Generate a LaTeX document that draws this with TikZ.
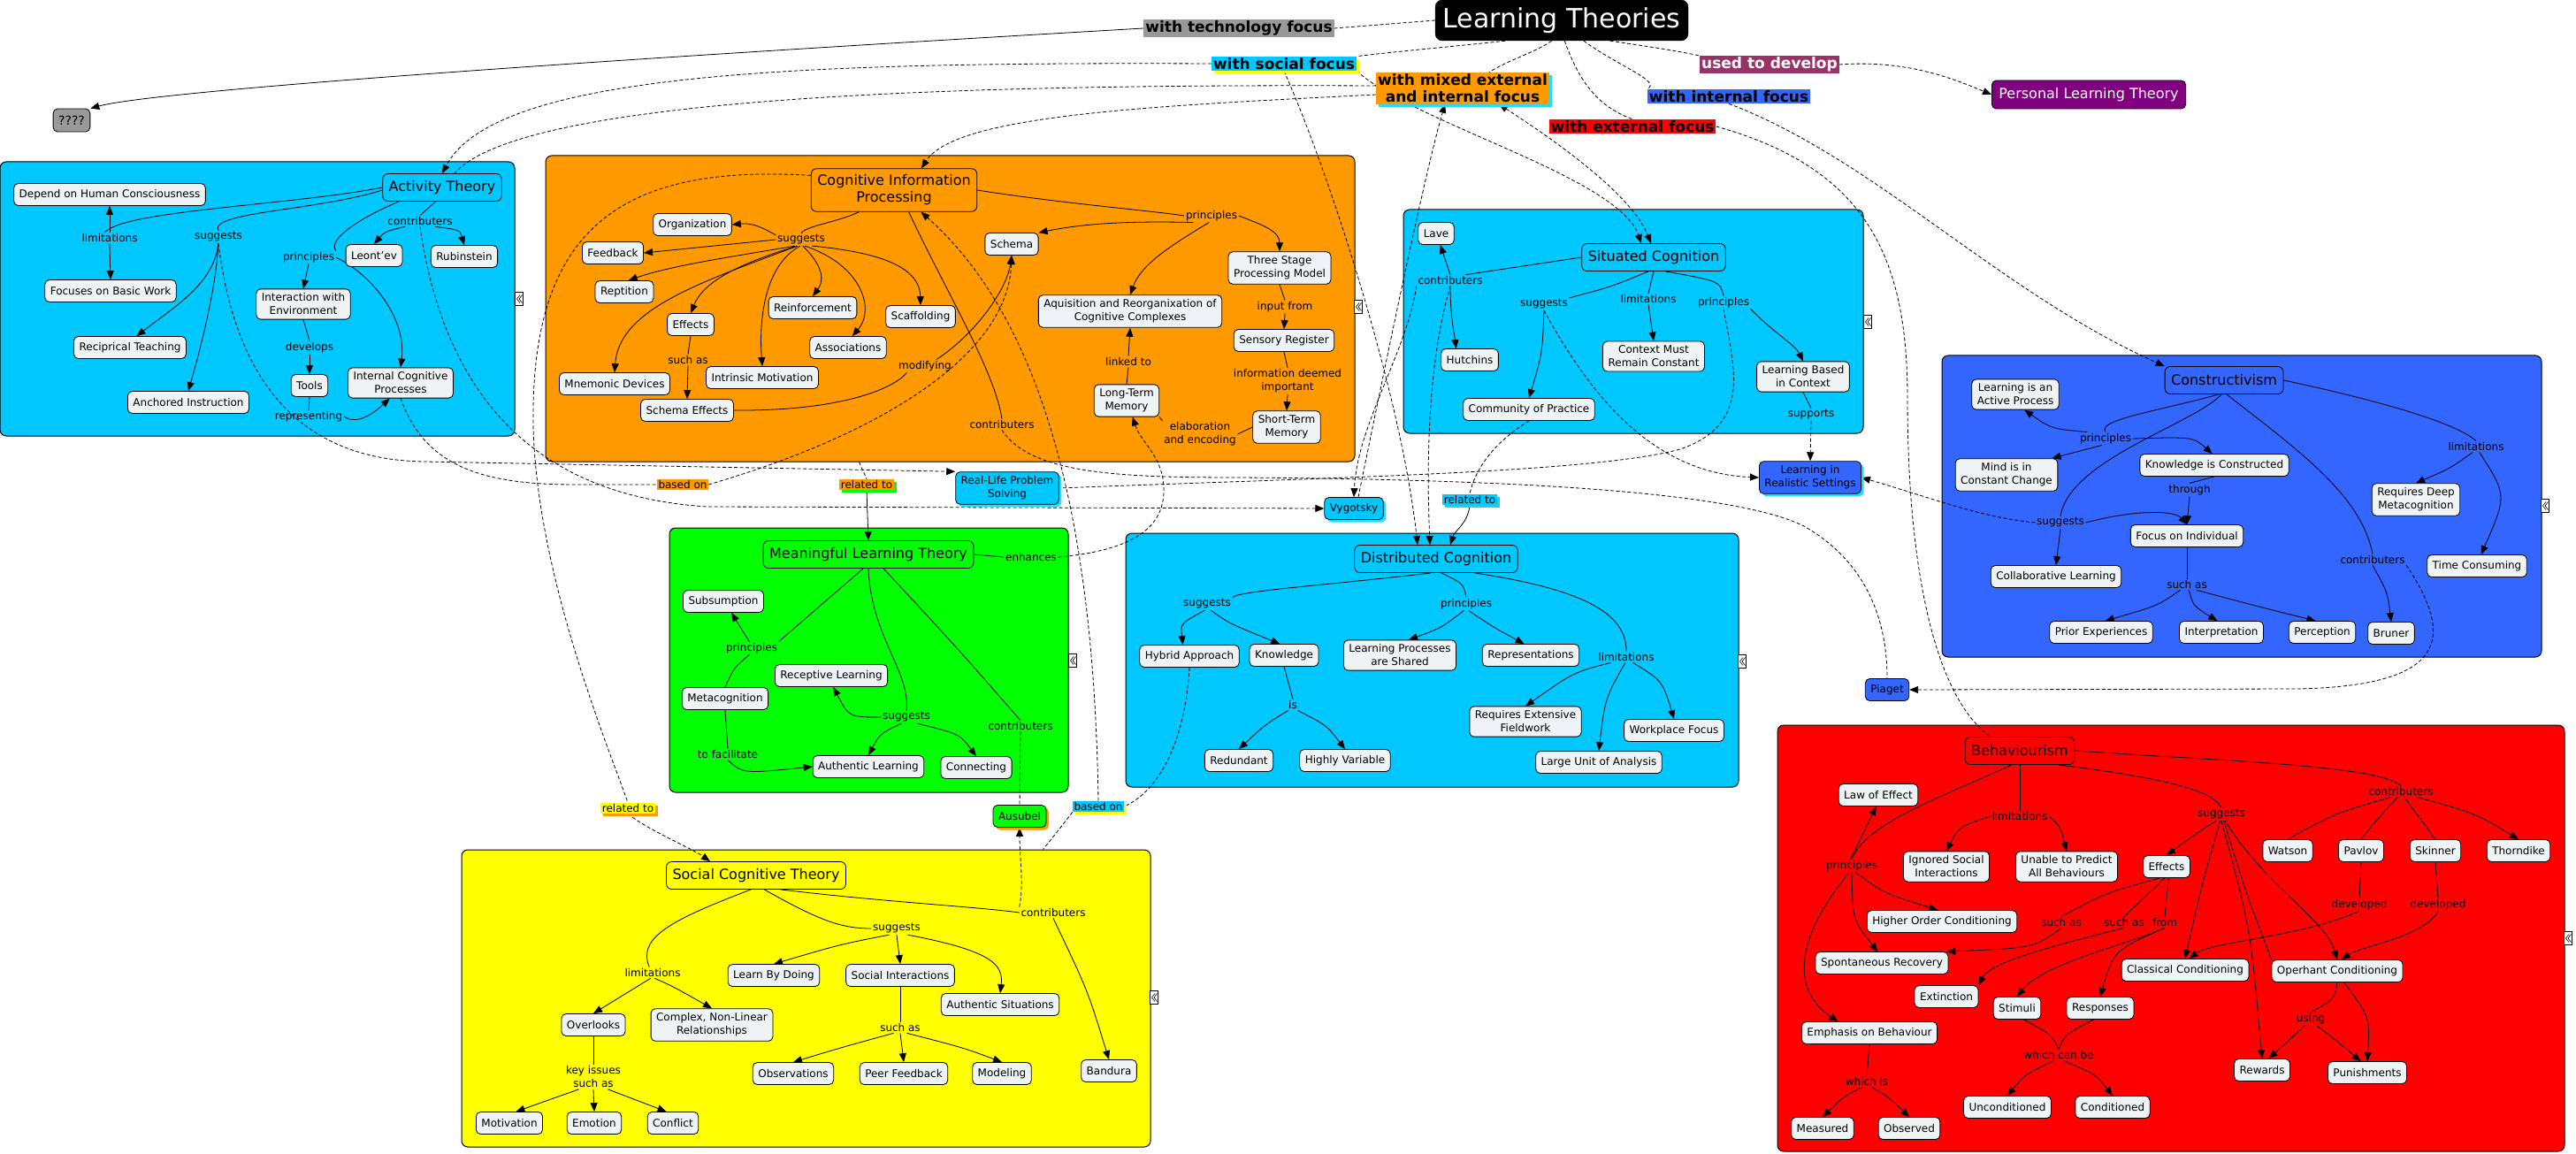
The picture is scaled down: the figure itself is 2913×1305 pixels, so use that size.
\documentclass[tikz,border=0pt]{standalone}
\usepackage{fontspec}
\setmainfont{DejaVu Sans}
\usetikzlibrary{arrows.meta,shadows,calc}
\definecolor{cyanc}{HTML}{00C8FF}
\definecolor{orangec}{HTML}{FF9900}
\definecolor{bluec}{HTML}{3366FF}
\definecolor{greenc}{HTML}{00FF00}
\definecolor{yellowc}{HTML}{FFFF00}
\definecolor{redc}{HTML}{FF0000}
\definecolor{nfc}{HTML}{EEF3F6}
\definecolor{grayc}{HTML}{999999}
\definecolor{purplec}{HTML}{800080}
\definecolor{maroonc}{HTML}{993366}
\definecolor{tealc}{HTML}{33CCCC}
\definecolor{shcy}{HTML}{22DDFF}
\pgfdeclarelayer{bg}
\pgfdeclarelayer{edges}
\pgfsetlayers{bg,edges,main}
\newcommand\ftw{\fontsize{12}{15}\selectfont}
\newcommand\fsx{\fontsize{16}{19}\selectfont}
\begin{document}
\begin{tikzpicture}[x=1pt,y=-1pt,
  cnode/.style={draw, rounded corners=5pt, fill=nfc, font=\ftw, inner xsep=6pt, inner ysep=5pt, minimum height=25pt, align=center, line width=0.8pt},
  tnode/.style={draw, rounded corners=6pt, font=\fsx, inner xsep=7pt, inner ysep=6pt, minimum height=31pt, align=center, line width=0.8pt},
  lph/.style={font=\ftw, inner sep=1.5pt, align=center},
  contbox/.style={draw, rounded corners=7pt, line width=1pt, inner sep=0pt},
  ln/.style={line width=0.8pt},
  arw/.style={ln, -{Triangle[length=10pt,width=8pt]}},
  dline/.style={ln, dash pattern=on 4pt off 2.5pt},
  darw/.style={arw, dash pattern=on 4pt off 2.5pt},
  toplab/.style={font=\bfseries\fontsize{17}{19}\selectfont, inner xsep=2pt, inner ysep=1.5pt, align=center},
  shd/.style={drop shadow={shadow xshift=3pt,shadow yshift=-3pt,fill=#1,opacity=1}},
  cmark/.pic={\draw[fill=white,line width=0.5pt] (-4.5,-7.5) rectangle (4.5,7.5);
    \draw[line width=0.6pt] (1,-4.5)--(-2.5,0)--(1,4.5) (3.5,-4.5)--(0,0)--(3.5,4.5);}
]
\useasboundingbox (0,0) rectangle (2913,1305);

% ---------------- containers
\begin{pgfonlayer}{bg}
\node[contbox, fill=cyanc, minimum width=582pt, minimum height=310pt] (Bat) at (291,338) {};
\node[contbox, fill=orangec, minimum width=915pt, minimum height=346pt] (Bcip) at (1074.5,349) {};
\node[contbox, fill=cyanc, minimum width=520pt, minimum height=253pt] (Bsc) at (1847,363.5) {};
\node[contbox, fill=bluec, minimum width=678pt, minimum height=341pt] (Bcon) at (2535,572.5) {};
\node[contbox, fill=greenc, minimum width=451pt, minimum height=299pt] (Bml) at (982.5,746.5) {};
\node[contbox, fill=cyanc, minimum width=693pt, minimum height=287pt] (Bdc) at (1619.5,746.5) {};
\node[contbox, fill=yellowc, minimum width=779pt, minimum height=336pt] (Bsct) at (911.5,1129) {};
\node[contbox, fill=redc, minimum width=890pt, minimum height=482pt] (Bbeh) at (2455,1061) {};
\end{pgfonlayer}
\pic at (587,338) {cmark};
\pic at (1536,347) {cmark};
\pic at (2112,364) {cmark};
\pic at (2878,572) {cmark};
\pic at (1213,747) {cmark};
\pic at (1970,748) {cmark};
\pic at (1305,1128) {cmark};
\pic at (2904,1061) {cmark};

% ---------------- top
\node[draw=black, fill=black, text=white, rounded corners=8pt, font=\fontsize{30}{36}\selectfont, minimum width=286pt, minimum height=46pt, inner sep=0pt] (LT) at (1766,23) {Learning Theories};
\node[toplab, fill=grayc] (tech) at (1401,32) {with technology focus};
\node[toplab, fill=cyanc, shd=yellowc] (social) at (1452,72) {with social focus};
\node[toplab, fill=orangec, shd=shcy] (mixed) at (1654,100) {with mixed external\\and internal focus};
\node[toplab, fill=maroonc, text=white] (used) at (2001,73) {used to develop};
\node[toplab, fill=bluec] (internal) at (1955,109) {with internal focus};
\node[toplab, fill=redc] (external) at (1846,143) {with external focus};
\node[cnode, fill=purplec, text=white, font=\fontsize{16}{19}\selectfont, minimum height=32pt, inner xsep=8pt] (PLT) at (2362,107) {Personal Learning Theory};
\node[cnode, fill=grayc, font=\fontsize{14}{17}\selectfont, minimum height=26pt] (qq) at (81,136) {????};

% ---------------- standalone
\node[cnode, fill=cyanc, shd=shcy] (RL) at (1139,552) {Real-Life Problem\\Solving};
\node[cnode, fill=cyanc, shd=shcy] (Vy) at (1531,575) {Vygotsky};
\node[cnode, fill=bluec, shd=shcy] (LRS) at (2047,540) {Learning in\\Realistic Settings};
\node[cnode, fill=bluec] (Pi) at (2134,780) {Piaget};
\node[cnode, fill=greenc, shd=orangec] (aus) at (1153,923) {Ausubel};
\node[lph, fill=orangec] (basedO) at (772,548) {based on};
\node[lph, fill=orangec, shd=greenc] (relO) at (980,548) {related to};
\node[lph, fill=cyanc, shd=tealc] (relC) at (1662,565) {related to};
\node[lph, fill=yellowc, shd=orangec] (relY) at (710,914) {related to};
\node[lph, fill=cyanc, shd=yellowc] (basedC) at (1242,912) {based on};

% ---------------- Activity Theory
\node[tnode, fill=cyanc] (AT) at (500,212) {Activity Theory};
\node[cnode] (dep) at (124,220) {Depend on Human Consciousness};
\node[cnode] (fbw) at (125,329) {Focuses on Basic Work};
\node[cnode] (rt) at (147,393) {Reciprical Teaching};
\node[cnode] (ai) at (213,455) {Anchored Instruction};
\node[cnode] (iwe) at (343,344) {Interaction with\\Environment};
\node[cnode] (tools) at (350,436) {Tools};
\node[cnode] (icp) at (453,433) {Internal Cognitive\\Processes};
\node[cnode] (leo) at (423,289) {Leont'ev};
\node[cnode] (rub) at (525,290) {Rubinstein};
\node[lph] (atlim) at (124,269) {limitations};
\node[lph] (atsug) at (247,268) {suggests};
\node[lph] (atpr) at (349,291) {principles};
\node[lph] (atcon) at (475,250) {contributers};
\node[lph] (atdev) at (350,393) {develops};
\node[lph] (atrep) at (349,471) {representing};

% ---------------- Cognitive Information Processing
\node[tnode, fill=orangec, inner ysep=7pt] (CIP) at (1011,215) {Cognitive Information\\Processing};
\node[cnode] (org) at (783,254) {Organization};
\node[cnode] (fb) at (693,286) {Feedback};
\node[cnode] (rep) at (706,330) {Reptition};
\node[cnode] (eff) at (781,367) {Effects};
\node[cnode] (reinf) at (919,348) {Reinforcement};
\node[cnode] (scaf) at (1041,358) {Scaffolding};
\node[cnode] (assoc) at (959,393) {Associations};
\node[cnode] (im) at (862,427) {Intrinsic Motivation};
\node[cnode] (mn) at (695,434) {Mnemonic Devices};
\node[cnode] (se) at (777,464) {Schema Effects};
\node[cnode] (sch) at (1144,276) {Schema};
\node[cnode] (aq) at (1278,352) {Aquisition and Reorganixation of\\Cognitive Complexes};
\node[cnode] (ltm) at (1274,453) {Long-Term\\Memory};
\node[cnode] (tsp) at (1447,303) {Three Stage\\Processing Model};
\node[cnode] (sr) at (1452,385) {Sensory Register};
\node[cnode] (stm) at (1455,483) {Short-Term\\Memory};
\node[lph] (cisug) at (906,271) {suggests};
\node[lph] (cipr) at (1370,244) {principles};
\node[lph] (cisa) at (778,407) {such as};
\node[lph] (cimod) at (1046,414) {modifying};
\node[lph] (cilink) at (1276,409) {linked to};
\node[lph] (cicon) at (1133,480) {contributers};
\node[lph] (ciin) at (1453,347) {input from};
\node[lph] (ciinfo) at (1456,431) {information deemed\\important};
\node[lph] (cielab) at (1357,491) {elaboration\\and encoding};

% ---------------- Situated Cognition
\node[tnode, fill=cyanc] (SC) at (1870,291) {Situated Cognition};
\node[cnode] (lave) at (1624,264) {Lave};
\node[cnode] (hut) at (1662,407) {Hutchins};
\node[cnode] (cmrc) at (1870,403) {Context Must\\Remain Constant};
\node[cnode] (lbc) at (2039,426) {Learning Based\\in Context};
\node[cnode] (cop) at (1729,463) {Community of Practice};
\node[lph] (sccon) at (1640,317) {contributers};
\node[lph] (scsug) at (1746,344) {suggests};
\node[lph] (sclim) at (1864,338) {limitations};
\node[lph] (scpr) at (1949,342) {principles};
\node[lph] (scsup) at (2048,469) {supports};

% ---------------- Distributed Cognition
\node[tnode, fill=cyanc] (DC) at (1624,632) {Distributed Cognition};
\node[cnode] (hyb) at (1345,742) {Hybrid Approach};
\node[cnode] (know) at (1452,741) {Knowledge};
\node[cnode] (lps) at (1583,741) {Learning Processes\\are Shared};
\node[cnode] (repr) at (1731,741) {Representations};
\node[cnode] (redun) at (1401,860) {Redundant};
\node[cnode] (hv) at (1521,860) {Highly Variable};
\node[cnode] (ref) at (1725,816) {Requires Extensive\\Fieldwork};
\node[cnode] (wf) at (1893,826) {Workplace Focus};
\node[cnode] (luoa) at (1808,862) {Large Unit of Analysis};
\node[lph] (dcsug) at (1365,683) {suggests};
\node[lph] (dcpr) at (1658,683) {principles};
\node[lph] (dclim) at (1839,743) {limitations};
\node[lph] (dcis) at (1462,797) {is};

% ---------------- Meaningful Learning
\node[tnode, fill=greenc] (ML) at (982,627) {Meaningful Learning Theory};
\node[cnode] (subs) at (818,680) {Subsumption};
\node[cnode] (rl) at (940,764) {Receptive Learning};
\node[cnode] (meta) at (820,790) {Metacognition};
\node[cnode] (al) at (982,867) {Authentic Learning};
\node[cnode] (conn) at (1104,868) {Connecting};
\node[lph] (mlenh) at (1166,630) {enhances};
\node[lph] (mlpr) at (850,733) {principles};
\node[lph] (mlsug) at (1025,811) {suggests};
\node[lph] (mlcon) at (1154,821) {contributers};
\node[lph] (mlfac) at (823,853) {to facilitate};

% ---------------- Social Cognitive Theory
\node[tnode, fill=yellowc] (SCT) at (855,990) {Social Cognitive Theory};
\node[cnode] (lbd) at (875,1103) {Learn By Doing};
\node[cnode] (si) at (1018,1103) {Social Interactions};
\node[cnode] (asit) at (1131,1136) {Authentic Situations};
\node[cnode] (ovl) at (671,1159) {Overlooks};
\node[cnode] (cnl) at (805,1159) {Complex, Non-Linear\\Relationships};
\node[cnode] (obs) at (897,1214) {Observations};
\node[cnode] (pf) at (1022,1214) {Peer Feedback};
\node[cnode] (mdl) at (1133,1214) {Modeling};
\node[cnode] (band) at (1254,1211) {Bandura};
\node[cnode] (mot) at (576,1270) {Motivation};
\node[cnode] (emo) at (672,1270) {Emotion};
\node[cnode] (confl) at (761,1270) {Conflict};
\node[lph] (sctlim) at (738,1100) {limitations};
\node[lph] (sctsug) at (1014,1050) {suggests};
\node[lph] (sctcon) at (1191,1032) {contributers};
\node[lph] (sctsa) at (1018,1162) {such as};
\node[lph] (sctkey) at (671,1218) {key issues\\such as};

% ---------------- Constructivism
\node[tnode, fill=bluec] (CON) at (2515,430) {Constructivism};
\node[cnode] (liap) at (2279,446) {Learning is an\\Active Process};
\node[cnode] (mind) at (2269,537) {Mind is in\\Constant Change};
\node[cnode] (kic) at (2504,526) {Knowledge is Constructed};
\node[cnode] (foi) at (2473,606) {Focus on Individual};
\node[cnode] (cl) at (2325,652) {Collaborative Learning};
\node[cnode] (rdm) at (2732,565) {Requires Deep\\Metacognition};
\node[cnode] (tc) at (2801,640) {Time Consuming};
\node[cnode] (pe) at (2376,715) {Prior Experiences};
\node[cnode] (interp) at (2512,715) {Interpretation};
\node[cnode] (perc) at (2626,715) {Perception};
\node[cnode] (brun) at (2704,716) {Bruner};
\node[lph] (cpr) at (2381,496) {principles};
\node[lph] (cthr) at (2476,554) {through};
\node[lph] (csug) at (2330,591) {suggests};
\node[lph] (csa) at (2473,661) {such as};
\node[lph] (ccon) at (2683,633) {contributers};
\node[lph] (clim) at (2800,505) {limitations};

% ---------------- Behaviourism
\node[tnode, fill=redc] (BEH) at (2284,849) {Behaviourism};
\node[cnode] (loe) at (2124,899) {Law of Effect};
\node[cnode] (isi) at (2201,980) {Ignored Social\\Interactions};
\node[cnode] (upa) at (2337,980) {Unable to Predict\\All Behaviours};
\node[cnode] (beff) at (2450,980) {Effects};
\node[cnode] (wat) at (2587,962) {Watson};
\node[cnode] (pav) at (2670,962) {Pavlov};
\node[cnode] (ski) at (2754,962) {Skinner};
\node[cnode] (tho) at (2848,962) {Thorndike};
\node[cnode] (hoc) at (2196,1042) {Higher Order Conditioning};
\node[cnode] (spr) at (2128,1089) {Spontaneous Recovery};
\node[cnode] (cc) at (2471,1097) {Classical Conditioning};
\node[cnode] (oc) at (2643,1098) {Operhant Conditioning};
\node[cnode] (ext) at (2201,1127) {Extinction};
\node[cnode] (stim) at (2281,1140) {Stimuli};
\node[cnode] (resp) at (2375,1140) {Responses};
\node[cnode] (eob) at (2114,1168) {Emphasis on Behaviour};
\node[cnode] (rew) at (2558,1210) {Rewards};
\node[cnode] (pun) at (2677,1213) {Punishments};
\node[cnode] (unc) at (2270,1252) {Unconditioned};
\node[cnode] (cond) at (2389,1252) {Conditioned};
\node[cnode] (meas) at (2061,1276) {Measured};
\node[cnode] (obsd) at (2159,1276) {Observed};
\node[lph] (bpr) at (2094,979) {principles};
\node[lph] (blim) at (2284,923) {limitations};
\node[lph] (bsug) at (2512,921) {suggests};
\node[lph] (bcon) at (2715,895) {contributers};
\node[lph] (bsa1) at (2331,1043) {such as};
\node[lph] (bsa2) at (2402,1043) {such as};
\node[lph] (bfrom) at (2448,1043) {from};
\node[lph] (bdev1) at (2668,1023) {developed};
\node[lph] (bdev2) at (2757,1023) {developed};
\node[lph] (busing) at (2613,1152) {using};
\node[lph] (bwcb) at (2328,1193) {which can be};
\node[lph] (bwi) at (2111,1223) {which is};

% ================= EDGES
\begin{pgfonlayer}{edges}
% top
\draw[dline] (LT.west) -- (tech.east);
\draw[dline] (LT.200) .. controls (1650,52) and (1580,58) .. (social.north east);
\draw[dline] (LT.244) .. controls (1735,60) and (1700,70) .. (mixed.31);
\draw[dline] (LT.-82) .. controls (1785,90) and (1805,120) .. (external.north);
\draw[dline] (LT.-43) .. controls (1830,75) and (1880,92) .. (internal.north west);
\draw[dline] (LT.-23) .. controls (1860,52) and (1900,58) .. (used.north west);
\draw[darw] (used.east) .. controls (2150,68) and (2200,85) .. (PLT.west);
\draw[arw] (tech.west) .. controls (600,72) and (170,104) .. (qq.north east);
\draw[darw] (social.west) .. controls (900,70) and (560,82) .. (AT.north);
\draw[dline] ($(mixed.west)+(0,-3)$) .. controls (1100,95) and (590,108) .. ($(AT.north)+(14,0)$);
\draw[darw] ($(mixed.west)+(0,7)$) .. controls (1300,120) and (1080,130) .. ($(CIP.north)+(31,0)$);
\draw[darw] (social.south east) .. controls (1600,140) and (1830,200) .. ($(SC.north)+(-14,0)$);
\draw[dline, {Triangle[length=10pt,width=8pt]}-{Triangle[length=10pt,width=8pt]}] ($(mixed.south)+(41,0)$) .. controls (1760,160) and (1845,220) .. ($(SC.north)+(-3,0)$);
\draw[darw] ($(Vy.north)+(5,0)$) .. controls (1565,420) and (1610,200) .. ($(mixed.south)+(-20,0)$);
\draw[darw] (social.south) .. controls (1505,200) and (1585,450) .. ($(DC.north)+(-21,0)$);
\draw[darw] (sccon.south) .. controls (1612,420) and (1614,540) .. ($(DC.north)+(-7,0)$);
\draw[darw] (sccon.south west) .. controls (1590,400) and (1535,480) .. (Vy.north);
\draw[dline] (external.east) .. controls (2110,190) and (2157,290) .. (2157,450) .. controls (2157,650) and (2190,790) .. ($(BEH.north west)+(29,0)$);
\draw[darw] (internal.south) .. controls (2120,180) and (2260,330) .. (CON.north west);

% cross links
\draw[darw] (atsug.south) .. controls (265,420) and (330,520) .. (480,522) -- (RL.north west);
\draw[darw] (atcon.south) .. controls (500,430) and (590,560) .. (800,573) -- (Vy.west);
\draw[dline] (icp.south) .. controls (480,525) and (540,548) .. (650,548) -- (basedO.west);
\draw[darw] (basedO.east) .. controls (1000,490) and (1140,400) .. (sch.south);
\draw[dline] (CIP.170) .. controls (700,185) and (600,260) .. (603,480) .. controls (606,650) and (690,850) .. (relY.north);
\draw[darw] (relY.south) .. controls (735,940) and (780,958) .. (SCT.163);
\draw[dline] (hyb.south) .. controls (1340,840) and (1310,895) .. (basedC.east);
\draw[darw] (basedC.north) .. controls (1238,650) and (1200,380) .. (CIP.-39);
\draw[dline] (basedC.south west) .. controls (1200,935) .. ($(Bsct.north west)+(658,0)$);
\draw[darw] (mlenh.east) .. controls (1285,622) and (1318,595) .. (1316,550) .. controls (1314,515) and (1290,500) .. (ltm.-70);
\draw[dline] (cicon.south) .. controls (1165,535) and (1260,540) .. (1400,540) .. controls (1700,542) and (1960,555) .. (2040,595) .. controls (2110,635) and (2134,700) .. (Pi.north);
\draw[dline] (scpr.south) .. controls (1962,420) and (1980,480) .. (1900,508) .. controls (1800,535) and (1500,540) .. (RL.east);
\draw[darw] (scsug.south) .. controls (1800,450) and (1870,535) .. (LRS.west);
\draw[ln] (lbc.south) -- (scsup.north);
\draw[darw] (scsup.south) -- (LRS.north);
\draw[darw] (csug.west) .. controls (2240,585) and (2190,565) .. (LRS.east);
\draw[darw] (ccon.south east) .. controls (2775,720) and (2770,775) .. (2600,779) -- (Pi.east);
\draw[dline] (mlcon.south) -- (aus.north);
\draw[darw] (sctcon.north west) .. controls (1158,1000) and (1153,970) .. (aus.south);
\draw[dline] (cop.south) .. controls (1690,500) and (1668,530) .. (relC.north);
\draw[arw] (relC.south) .. controls (1660,592) and (1645,600) .. ($(DC.north)+(16,0)$);
\draw[dline] ($(Bcip.south west)+(355,0)$) -- (relO.north);
\draw[arw] (relO.south) -- (ML.north);

% Activity
\draw[ln] (AT.west) .. controls (330,232) and (140,238) .. (atlim.130);
\draw[arw] (atlim.north) -- (dep.south);
\draw[arw] (atlim.south) -- (fbw.north);
\draw[ln] ($(AT.west)+(0,3)$) .. controls (360,238) and (235,240) .. (atsug.north);
\draw[arw] (atsug.south) .. controls (242,320) and (200,345) .. (rt.60);
\draw[arw] (atsug.south) .. controls (244,330) and (225,400) .. (ai.north);
\draw[ln] (AT.198) .. controls (410,245) and (370,270) .. (atpr.north east);
\draw[arw] (atpr.south) -- (iwe.north);
\draw[arw] (atpr.east) .. controls (420,310) and (460,360) .. (icp.north);
\draw[ln] (AT.-115) -- (atcon.north);
\draw[arw] (atcon.200) .. controls (435,262) .. (leo.north);
\draw[arw] (atcon.-20) .. controls (520,260) .. (rub.north);
\draw[ln] (iwe.south) -- (atdev.north);
\draw[arw] (atdev.south) -- (tools.north);
\draw[ln] (tools.south) -- (atrep.north);
\draw[arw] (atrep.east) .. controls (405,482) and (425,465) .. (icp.-125);

% CIP
\draw[ln] (CIP.212) .. controls (945,252) and (912,255) .. (cisug.north);
\draw[arw] (cisug.170) .. controls (860,256) and (850,252) .. (org.east);
\draw[arw] (cisug.west) -- (fb.east);
\draw[arw] (cisug.225) .. controls (830,290) and (760,300) .. (rep.70);
\draw[arw] (cisug.235) .. controls (830,300) and (795,320) .. (eff.north);
\draw[arw] (cisug.240) .. controls (790,320) and (700,350) .. (mn.north);
\draw[arw] (cisug.260) .. controls (865,300) and (858,360) .. (im.north);
\draw[arw] (cisug.285) .. controls (935,305) and (930,320) .. (reinf.north);
\draw[arw] (cisug.300) .. controls (975,300) and (990,350) .. (assoc.70);
\draw[arw] (cisug.330) .. controls (990,285) and (1040,300) .. (scaf.north);
\draw[ln] (eff.south) -- (cisa.north);
\draw[arw] (cisa.south) -- (se.north);
\draw[ln] (se.east) .. controls (950,465) and (1010,440) .. (cimod.200);
\draw[arw] (cimod.30) .. controls (1100,380) and (1138,330) .. (sch.south);
\draw[ln] (CIP.east) .. controls (1200,230) and (1300,238) .. (cipr.west);
\draw[arw] (cipr.200) .. controls (1280,250) and (1230,252) .. (sch.north east);
\draw[arw] (cipr.250) .. controls (1320,280) and (1290,300) .. (aq.north);
\draw[arw] (cipr.east) .. controls (1430,255) and (1447,262) .. (tsp.north);
\draw[ln] (tsp.south) -- (ciin.north);
\draw[arw] (ciin.south) -- (sr.north);
\draw[ln] (sr.south) -- (ciinfo.north);
\draw[arw] (ciinfo.south) -- (stm.north);
\draw[ln] (stm.west) -- (cielab.east);
\draw[ln] (cielab.north west) -- (ltm.south east);
\draw[ln] (ltm.north) -- (cilink.south);
\draw[arw] (cilink.north) -- (aq.south);
\draw[ln] (CIP.-56) .. controls (1070,330) and (1125,420) .. (cicon.north);

% Situated
\draw[ln] (SC.west) -- (sccon.20);
\draw[arw] (sccon.north) -- (lave.-70);
\draw[arw] (sccon.south) .. controls (1640,360) and (1645,380) .. (hut.140);
\draw[ln] (SC.-110) .. controls (1820,325) .. (scsug.north east);
\draw[arw] (scsug.south) .. controls (1744,400) .. (cop.north);
\draw[ln] (SC.south) -- (sclim.north);
\draw[arw] (sclim.south) -- (cmrc.north);
\draw[ln] (SC.-50) .. controls (1945,318) .. (scpr.north);
\draw[arw] (scpr.south east) .. controls (2010,380) and (2030,390) .. (lbc.north);

% Distributed
\draw[ln] (DC.250) .. controls (1500,662) and (1400,668) .. (dcsug.north east);
\draw[arw] (dcsug.250) .. controls (1335,705) .. (hyb.120);
\draw[arw] (dcsug.300) .. controls (1390,705) .. (know.110);
\draw[ln] (DC.-70) .. controls (1655,660) .. (dcpr.north);
\draw[arw] (dcpr.250) .. controls (1630,710) .. (lps.60);
\draw[arw] (dcpr.290) .. controls (1690,710) .. (repr.120);
\draw[ln] (DC.-20) .. controls (1780,665) and (1840,690) .. (dclim.north);
\draw[arw] (dclim.200) .. controls (1780,760) .. (ref.north);
\draw[arw] (dclim.260) .. controls (1815,790) .. (luoa.north);
\draw[arw] (dclim.-40) .. controls (1880,770) .. (wf.north);
\draw[ln] (know.south) -- (dcis.north);
\draw[arw] (dcis.230) .. controls (1430,820) .. (redun.north);
\draw[arw] (dcis.-50) .. controls (1500,820) .. (hv.north);

% Meaningful
\draw[ln] (ML.east) -- (mlenh.west);
\draw[ln] (ML.250) -- (mlpr.north east);
\draw[arw] (mlpr.110) -- (subs.-55);
\draw[ln] (mlpr.250) .. controls (830,755) .. (meta.north);
\draw[ln] (ML.south) .. controls (985,720) and (1030,760) .. (mlsug.north);
\draw[arw] (mlsug.west) .. controls (960,811) .. (rl.-80);
\draw[arw] (mlsug.230) .. controls (995,830) .. (al.north);
\draw[arw] (mlsug.-30) .. controls (1085,830) .. (conn.north);
\draw[ln] (ML.-43) .. controls (1080,730) .. (mlcon.north);
\draw[ln] (meta.south) -- (mlfac.north);
\draw[arw] (mlfac.south) .. controls (840,875) .. (al.west);

% Social Cognitive
\draw[ln] (SCT.-110) .. controls (760,1040) and (720,1060) .. (sctlim.120);
\draw[arw] (sctlim.250) -- (ovl.north);
\draw[arw] (sctlim.290) .. controls (760,1115) .. (cnl.north);
\draw[ln] (SCT.-60) .. controls (925,1040) and (950,1050) .. (sctsug.west);
\draw[arw] (sctsug.220) .. controls (950,1068) .. (lbd.north);
\draw[arw] (sctsug.south) -- (si.north);
\draw[arw] (sctsug.-30) .. controls (1120,1075) and (1135,1090) .. (asit.north);
\draw[ln] (SCT.-30) .. controls (1000,1020) and (1100,1025) .. (sctcon.west);
\draw[arw] (sctcon.south) .. controls (1230,1120) .. (band.north);
\draw[ln] (si.south) -- (sctsa.north);
\draw[arw] (sctsa.220) .. controls (950,1185) .. (obs.north);
\draw[arw] (sctsa.south) -- (pf.north);
\draw[arw] (sctsa.-40) .. controls (1090,1185) .. (mdl.north);
\draw[ln] (ovl.south) -- (sctkey.north);
\draw[arw] (sctkey.220) -- (mot.60);
\draw[arw] (sctkey.south) -- (emo.north);
\draw[arw] (sctkey.-40) -- (confl.120);

% Constructivism
\draw[ln] (CON.250) .. controls (2440,465) and (2370,475) .. (cpr.north);
\draw[arw] (cpr.160) .. controls (2320,485) .. (liap.-60);
\draw[arw] (cpr.240) -- (mind.20);
\draw[arw] (cpr.east) .. controls (2480,494) .. (kic.100);
\draw[ln] (kic.south) -- (cthr.north);
\draw[arw] (cthr.south) -- (foi.north);
\draw[ln] (CON.260) .. controls (2480,480) and (2340,520) .. (csug.north);
\draw[arw] (csug.east) .. controls (2420,575) and (2460,578) .. (foi.north);
\draw[arw] (csug.south) -- (cl.north);
\draw[ln] (foi.south) -- (csa.north);
\draw[arw] (csa.220) .. controls (2440,685) .. (pe.70);
\draw[arw] (csa.-70) .. controls (2480,685) .. (interp.110);
\draw[arw] (csa.-30) .. controls (2550,685) .. (perc.120);
\draw[ln] (CON.-80) .. controls (2600,510) and (2670,560) .. (ccon.north);
\draw[arw] (ccon.south) .. controls (2700,670) .. (brun.north);
\draw[ln] (CON.east) .. controls (2700,455) and (2780,480) .. (clim.north);
\draw[arw] (clim.240) .. controls (2770,530) .. (rdm.north);
\draw[arw] (clim.-60) .. controls (2835,560) .. (tc.70);

% Behaviourism
\draw[ln] (BEH.240) .. controls (2200,900) and (2110,930) .. (bpr.north);
\draw[arw] (bpr.100) -- (loe.-100);
\draw[arw] (bpr.-60) .. controls (2130,1010) .. (hoc.110);
\draw[arw] (bpr.south) .. controls (2095,1040) .. (spr.110);
\draw[arw] (bpr.250) .. controls (2030,1060) and (2025,1120) .. (eob.160);
\draw[ln] (BEH.south) -- (blim.north);
\draw[arw] (blim.west) .. controls (2215,935) .. (isi.north);
\draw[arw] (blim.east) .. controls (2330,935) .. (upa.north);
\draw[ln] (BEH.-20) .. controls (2450,880) and (2505,895) .. (bsug.north);
\draw[arw] (bsug.230) .. controls (2480,945) .. (beff.north);
\draw[arw] (bsug.260) .. controls (2490,1000) .. (cc.north);
\draw[arw] (bsug.south) .. controls (2545,1050) .. (rew.north);
\draw[ln] (bsug.-70) .. controls (2540,1010) .. (oc.north west);
\draw[arw] (bsug.-60) .. controls (2560,1000) and (2630,1040) .. (oc.north);
\draw[ln] (BEH.east) .. controls (2500,860) and (2690,865) .. (bcon.north);
\draw[ln] (bcon.210) .. controls (2640,920) .. (wat.north);
\draw[ln] (bcon.240) .. controls (2685,930) .. (pav.north);
\draw[ln] (bcon.-60) .. controls (2740,930) .. (ski.north);
\draw[arw] (bcon.-20) .. controls (2800,920) .. (tho.north);
\draw[ln] (pav.south) -- (bdev1.north);
\draw[arw] (bdev1.south) .. controls (2600,1060) and (2500,1065) .. (cc.70);
\draw[ln] (ski.south) -- (bdev2.north);
\draw[arw] (bdev2.south) .. controls (2740,1060) and (2670,1070) .. (oc.70);
\draw[ln] (beff.240) .. controls (2380,1010) .. (bsa1.north);
\draw[arw] (bsa1.south) .. controls (2300,1072) .. (spr.10);
\draw[ln] (beff.260) -- (bsa2.north);
\draw[arw] (bsa2.south) .. controls (2300,1075) and (2250,1090) .. (ext.north east);
\draw[ln] (beff.-80) -- (bfrom.north);
\draw[arw] (bfrom.south) .. controls (2400,1070) and (2310,1090) .. (stim.north);
\draw[arw] (bfrom.south) .. controls (2390,1075) .. (resp.north);
\draw[ln] (stim.-60) .. controls (2320,1170) .. (bwcb.north);
\draw[ln] (resp.-120) .. controls (2335,1170) .. (bwcb.north);
\draw[arw] (bwcb.230) .. controls (2290,1215) .. (unc.north);
\draw[arw] (bwcb.-50) .. controls (2370,1215) .. (cond.north);
\draw[ln] (oc.south) .. controls (2640,1130) .. (busing.north);
\draw[arw] (busing.230) .. controls (2590,1175) .. (rew.60);
\draw[arw] (busing.-50) .. controls (2640,1175) .. (pun.120);
\draw[arw] (oc.-60) .. controls (2680,1150) .. (pun.north);
\draw[ln] (eob.south) -- (bwi.north);
\draw[arw] (bwi.230) .. controls (2085,1240) .. (meas.north);
\draw[arw] (bwi.-50) .. controls (2135,1240) .. (obsd.north);
\end{pgfonlayer}
\end{tikzpicture}
\end{document}
